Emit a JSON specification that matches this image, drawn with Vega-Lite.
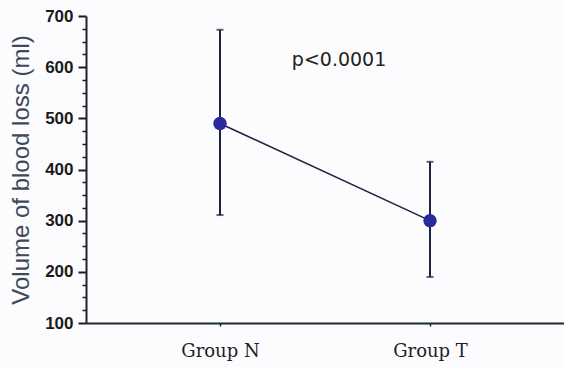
{
  "$schema": "https://vega.github.io/schema/vega-lite/v6.json",
  "width": 478,
  "height": 307,
  "autosize": {"type": "none"},
  "padding": {"left": 86, "top": 16, "right": 0, "bottom": 44},
  "background": "#fcfcfe",
  "config": {"view": {"stroke": null}, "axis": {"grid": false}},
  "resolve": {"axis": {"y": "independent"}},
  "datasets": {
    "groups": [
      {"group": "Group N", "pos": 1, "mean": 490, "lo": 311, "hi": 673},
      {"group": "Group T", "pos": 2, "mean": 300, "lo": 190, "hi": 415}
    ],
    "note": [{"pos": 1.567, "y": 614, "text": "p<0.0001"}]
  },
  "layer": [
    {
      "data": {"name": "groups"},
      "mark": {"type": "rule", "color": "#1c2340", "strokeWidth": 2},
      "encoding": {
        "x": {
          "field": "pos", "type": "quantitative", "title": null,
          "scale": {"domain": [0.362, 2.638], "nice": false, "zero": false},
          "axis": {
            "values": [1, 2],
            "labelExpr": "datum.value === 1 ? 'Group N' : 'Group T'",
            "labelFont": "DejaVu Serif", "labelFontSize": 18, "labelColor": "#1e1e1e",
            "tickSize": 3, "tickColor": "#1b2430", "tickWidth": 1.5,
            "labelPadding": 16,
            "domainColor": "#1b2a35", "domainWidth": 2
          }
        },
        "y": {
          "field": "lo", "type": "quantitative", "title": "Volume of blood loss (ml)",
          "scale": {"domain": [100, 700], "nice": false, "zero": false},
          "axis": {
            "orient": "left",
            "values": [100, 200, 300, 400, 500, 600, 700],
            "ticks": true,
            "tickSize": 8,
            "tickColor": "#161c28", "tickWidth": 2,
            "labelFont": "Liberation Sans",
            "labelFontWeight": "bold", "labelFontSize": 17, "labelColor": "#1a1a1a",
            "labelPadding": 5,
            "domainColor": "#1b2430", "domainWidth": 2,
            "titleFont": "Liberation Sans", "titleFontSize": 24, "titleFontWeight": "normal",
            "titleColor": "#3d4a5c", "titlePadding": 11
          }
        },
        "y2": {"field": "hi"}
      }
    },
    {
      "data": {"name": "groups"},
      "mark": {"type": "tick", "orient": "horizontal", "color": "#1c2340", "size": 7, "thickness": 2},
      "encoding": {
        "x": {"field": "pos", "type": "quantitative", "title": null},
        "y": {
          "field": "lo", "type": "quantitative", "title": null,
          "axis": {
            "orient": "left",
            "values": [125,150,175,225,250,275,325,350,375,425,450,475,525,550,575,625,650,675],
            "labels": false, "domain": false, "ticks": true,
            "tickSize": 4, "tickColor": "#161c28", "tickWidth": 1.5
          }
        }
      }
    },
    {
      "data": {"name": "groups"},
      "mark": {"type": "tick", "orient": "horizontal", "color": "#1c2340", "size": 7, "thickness": 2},
      "encoding": {
        "x": {"field": "pos", "type": "quantitative", "title": null},
        "y": {"field": "hi", "type": "quantitative", "title": null, "axis": null}
      }
    },
    {
      "data": {"name": "groups"},
      "mark": {"type": "line", "color": "#1c2340", "strokeWidth": 1.5},
      "encoding": {
        "x": {"field": "pos", "type": "quantitative", "title": null},
        "y": {"field": "mean", "type": "quantitative", "title": null, "axis": null}
      }
    },
    {
      "data": {"name": "groups"},
      "mark": {"type": "circle", "color": "#2a2a9e", "size": 180, "opacity": 1},
      "encoding": {
        "x": {"field": "pos", "type": "quantitative", "title": null},
        "y": {"field": "mean", "type": "quantitative", "title": null, "axis": null}
      }
    },
    {
      "data": {"name": "note"},
      "mark": {"type": "text", "font": "DejaVu Sans", "fontSize": 19, "color": "#222222", "align": "center", "baseline": "middle"},
      "encoding": {
        "x": {"field": "pos", "type": "quantitative", "title": null},
        "y": {"field": "y", "type": "quantitative", "title": null, "axis": null},
        "text": {"field": "text"}
      }
    }
  ]
}
